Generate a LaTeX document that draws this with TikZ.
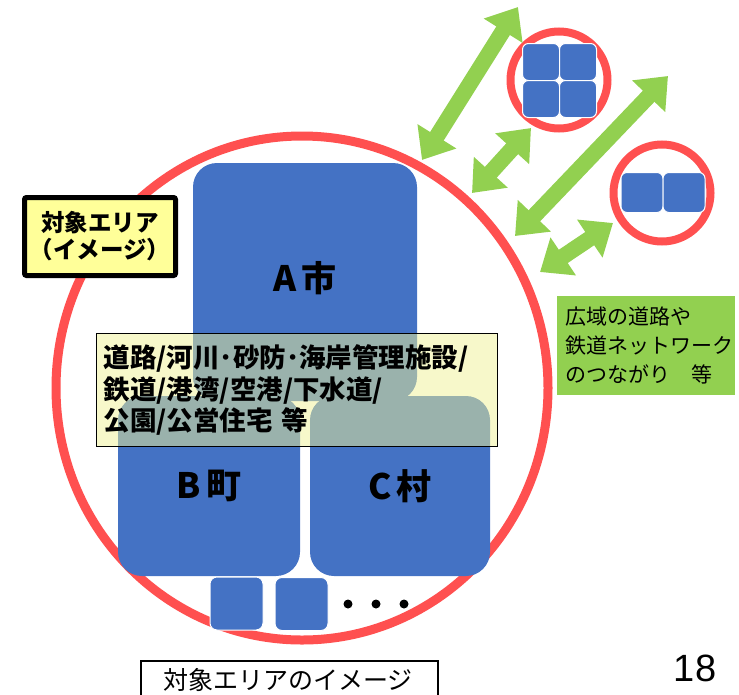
\documentclass[tikz,border=0pt]{standalone}
\usepackage{fontspec}
\setmainfont{Liberation Sans}
\newfontfamily\jp{Noto Sans CJK JP}
\usetikzlibrary{arrows.meta}

\definecolor{cityblue}{HTML}{4472C4}
\definecolor{areared}{HTML}{FF5050}
\definecolor{linkgreen}{HTML}{92D050}
\definecolor{tagyellow}{HTML}{FFFF99}
\definecolor{listyellow}{RGB}{240,242,150}

\newcommand{\cityname}[2]{#1\kern5pt#2}

\begin{document}
\begin{tikzpicture}[x=1pt,y=-1pt,
  city/.style={fill=cityblue, rounded corners=24pt, inner sep=0pt},
  town/.style={fill=cityblue, draw=white, line width=1pt, rounded corners=7pt, inner sep=0pt},
  cityname/.style={font=\jp\bfseries\fontsize{35}{38}\selectfont},
  ring/.style={draw=areared, line width=8pt},
  link/.style={draw=linkgreen, line width=16pt,
    {Triangle[length=28pt,width=44pt]}-{Triangle[length=28pt,width=44pt]}}]
\useasboundingbox (0,0) rectangle (739,694);

% target area
\draw[ring, line width=9pt] (302,388) ellipse [x radius=246, y radius=252];
\node[city, minimum width=224pt, minimum height=238pt] (acity) at (305,282) {};
\node[cityname] (aname) at (305,278) {\cityname{A}{市}};
\node[city, minimum width=182pt, minimum height=180pt, cityname] (bcity) at (209,486) {\cityname{B}{町}};
\node[city, minimum width=180pt, minimum height=180pt, cityname] (ccity) at (400,486) {\cityname{C}{村}};
\node[town, minimum width=53pt, minimum height=53pt] (t1) at (236.5,603.5) {};
\node[town, minimum width=53pt, minimum height=53pt] (t2) at (301.5,604) {};
\foreach \x in {348,376,404}
  \fill (\x,604) circle (4.5pt);

% facilities
\node[draw=black, line width=1.2pt, fill=listyellow, fill opacity=0.5, text opacity=1,
  minimum width=401pt, minimum height=113pt, inner xsep=7pt, inner ysep=6pt,
  text width=387pt, align=left, anchor=north west,
  font=\jp\bfseries\fontsize{26.5}{31.5}\selectfont] (list) at (96,333)
  {道路/河川･砂防･海岸管理施設/\\鉄道/港湾/空港/下水道/\\公園/公営住宅 等};

\node[draw=black, line width=5pt, fill=tagyellow, rounded corners=2pt,
  minimum width=151pt, minimum height=78pt, align=center,
  font=\jp\bfseries\fontsize{23.5}{27}\selectfont] (tag) at (100,236.5)
  {対象エリア\\（イメージ）};

% neighbouring areas
\draw[ring] (559,80) circle (48.5);
\draw[ring] (662,193) circle (48.5);
\foreach \x/\y [count=\i] in {541/62,578/62,541/99,578/99}
  \node[town, minimum width=37pt, minimum height=37pt, rounded corners=6pt] (n\i) at (\x,\y) {};
\node[town, minimum width=42pt, minimum height=40pt, rounded corners=6pt] (m1) at (642,192.5) {};
\node[town, minimum width=42pt, minimum height=40pt, rounded corners=6pt] (m2) at (684,192.5) {};

\coordinate (l1a) at (422,160);  \coordinate (l1b) at (518,7);
\coordinate (l2a) at (472,193);  \coordinate (l2b) at (531,128);
\coordinate (l3a) at (515,236);  \coordinate (l3b) at (668,76);
\coordinate (l4a) at (540,272);  \coordinate (l4b) at (613,223);
\foreach \i in {1,...,4}
  \draw[link] (l\i a) -- (l\i b);

\node[fill=linkgreen, minimum width=178pt, minimum height=99pt, anchor=north west,
  inner sep=8pt, align=left, text width=162pt,
  font=\jp\fontsize{21}{29}\selectfont] (wide) at (557,296)
  {広域の道路や\\鉄道ネットワーク\\のつながり　等};

% caption
\node[draw=black, line width=1.5pt, minimum width=297pt, minimum height=44pt,
  anchor=north west] (cap) at (140,660) {};
\node[font=\jp\fontsize{25}{30}\selectfont] (captext) at (288,680) {対象エリアのイメージ};
\node[font=\fontsize{38}{40}\selectfont] (page) at (695,668) {18};
\end{tikzpicture}
\end{document}
